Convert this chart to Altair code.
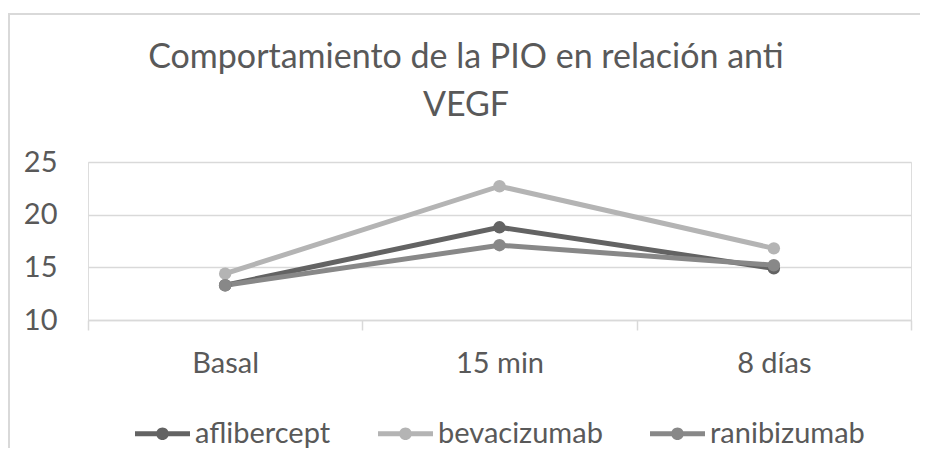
import altair as alt
import pandas as pd

categories = ["Basal", "15 min", "8 días"]
series_names = ["aflibercept", "bevacizumab", "ranibizumab"]
aflibercept = [13.3, 18.8, 14.9]
bevacizumab = [14.4, 22.7, 16.8]
ranibizumab = [13.3, 17.1, 15.2]
series_colors = ["#636363", "#b4b4b4", "#888888"]
y_ticks = [10, 15, 20, 25]
title_lines = ["Comportamiento de la PIO en relación anti", "VEGF"]

rows = []
for name, vals in zip(series_names, [aflibercept, bevacizumab, ranibizumab]):
    for i, (c, v) in enumerate(zip(categories, vals)):
        rows.append({"serie": name, "momento": c, "PIO": v, "idx": i})
df = pd.DataFrame(rows)

W, H = 823, 158
PAD_R = 9
FONT = "Lato"
TEXT = "#595959"
GRID = "#d9d9d9"

x = alt.X(
    "momento:N", sort=categories, bandPosition=0.5,
    scale=alt.Scale(type="band", paddingInner=0, paddingOuter=0),
    axis=alt.Axis(title=None, labelAngle=0, tickBand="extent", grid=False,
                  domainColor=GRID, domainWidth=1.5, tickColor=GRID, tickWidth=1.5,
                  tickSize=10, labelPadding=19, labelFontSize=29, labelColor=TEXT,
                  labelFont=FONT),
)
y = alt.Y(
    "PIO:Q", scale=alt.Scale(domain=[10, 25], nice=False, zero=False),
    axis=alt.Axis(title=None, values=y_ticks, domain=False, ticks=False, grid=True,
                  gridColor=GRID, gridWidth=1.5, labelPadding=31, labelFontSize=29,
                  labelColor=TEXT, labelFont=FONT),
)
color_scale = alt.Scale(domain=series_names, range=series_colors)

symbol_path = ("M-1,-0.09L1,-0.09L1,0.09L-1,0.09Z "
               "M0.23,0A0.23,0.23,0,1,1,-0.23,0A0.23,0.23,0,1,1,0.23,0Z")

deco = pd.DataFrame({"k": [0]})

frame_top = alt.Chart(deco).mark_rule(color=GRID, strokeWidth=2).encode(
    x=alt.value(-80), x2=alt.value(W + PAD_R), y=alt.value(-148))
frame_left = alt.Chart(deco).mark_rule(color=GRID, strokeWidth=2).encode(
    x=alt.value(-79), y=alt.value(-149), y2=alt.value(H + 128))

title = alt.Chart(deco).mark_text(
    text=title_lines, fontSize=34, font=FONT, color=TEXT, align="center",
    baseline="alphabetic", lineHeight=48,
).encode(x=alt.value(378), y=alt.value(-94))

line_layers = [
    alt.Chart(df).transform_filter(alt.datum.serie == name)
    .mark_line(strokeWidth=5, color=col)
    .encode(x=x, y=y, order="idx:Q")
    for name, col in zip(series_names, series_colors)
]

points = alt.Chart(df).mark_point(filled=True, size=155, opacity=1).encode(
    x=x, y=y,
    color=alt.Color("serie:N", scale=color_scale, legend=alt.Legend(
        title=None, orient="none", legendX=47, legendY=244, direction="horizontal",
        symbolType=symbol_path, symbolSize=3025, symbolStrokeWidth=0,
        labelFontSize=29, labelFont=FONT, labelColor=TEXT, labelOffset=5,
        labelLimit=400, columnPadding=47, padding=0, symbolOpacity=1)),
)

chart = alt.layer(frame_top, frame_left, title, *line_layers, points).properties(
    width=W, height=H,
    autosize=alt.AutoSizeParams(type="none"),
    padding={"left": 80, "top": 154, "right": PAD_R, "bottom": 128},
).configure_view(strokeWidth=0).configure(background="white")

chart.save("out.html", embed_options={"renderer": "svg", "actions": False})
